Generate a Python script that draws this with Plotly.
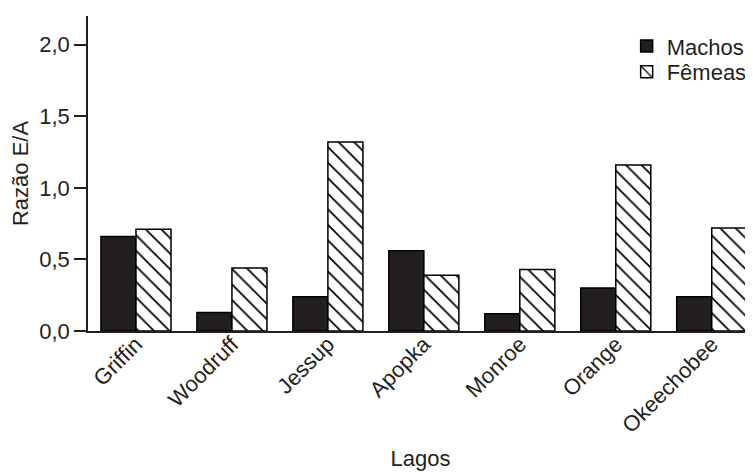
import plotly.graph_objects as go

lagos = ["Griffin", "Woodruff", "Jessup", "Apopka", "Monroe", "Orange", "Okeechobee"]
machos = [0.66, 0.13, 0.24, 0.56, 0.12, 0.30, 0.24]
femeas = [0.71, 0.44, 1.32, 0.39, 0.43, 1.16, 0.72]
yticks = [0.0, 0.5, 1.0, 1.5, 2.0]
ytick_text = ["0,0", "0,5", "1,0", "1,5", "2,0"]

font = "Liberation Sans, Arial, sans-serif"
ink = "#231f20"

fig = go.Figure()
fig.add_trace(go.Bar(
    x=lagos, y=machos, name="Machos", legend="legend",
    marker=dict(color=ink, line=dict(color="#000000", width=1.5)),
))
fig.add_trace(go.Bar(
    x=lagos, y=femeas, name="Fêmeas", legend="legend2",
    marker=dict(color="white", line=dict(color="#000000", width=1.5),
                pattern=dict(shape="\\", size=11, solidity=0.16,
                             fgcolor="#000000", bgcolor="white", fgopacity=1)),
))

leg_common = dict(xanchor="left", yanchor="top", font=dict(size=22),
                  bgcolor="rgba(0,0,0,0)", itemwidth=30)

# page body has an 8px default margin, so figure is 8px smaller and shifted
fig.update_layout(
    width=745, height=464,
    barmode="group", bargap=0.27, bargroupgap=0,
    plot_bgcolor="white", paper_bgcolor="white",
    margin=dict(l=80, r=0, t=8, b=141, autoexpand=False),
    font=dict(family=font, size=22, color=ink),
    showlegend=True,
    legend=dict(x=0.81, y=0.971, **leg_common),
    legend2=dict(x=0.81, y=0.889, **leg_common),
    xaxis=dict(
        range=[-0.5, 6.43], showline=True, linecolor=ink, linewidth=1.5,
        ticks="", tickangle=-45, tickfont=dict(size=22), automargin=False,
        ticklabelstandoff=-10,
        title=dict(text="Lagos", font=dict(size=22), standoff=14),
        showgrid=False, zeroline=False,
    ),
    yaxis=dict(
        range=[0, 2.2], showline=True, linecolor=ink, linewidth=1.5,
        ticks="outside", ticklen=12, tickwidth=1.5, tickcolor=ink,
        tickvals=yticks, ticktext=ytick_text, tickfont=dict(size=22),
        automargin=False,
        title=dict(text="Razão E/A", font=dict(size=22), standoff=8),
        showgrid=False, zeroline=False,
    ),
)

fig.write_html("out.html")
